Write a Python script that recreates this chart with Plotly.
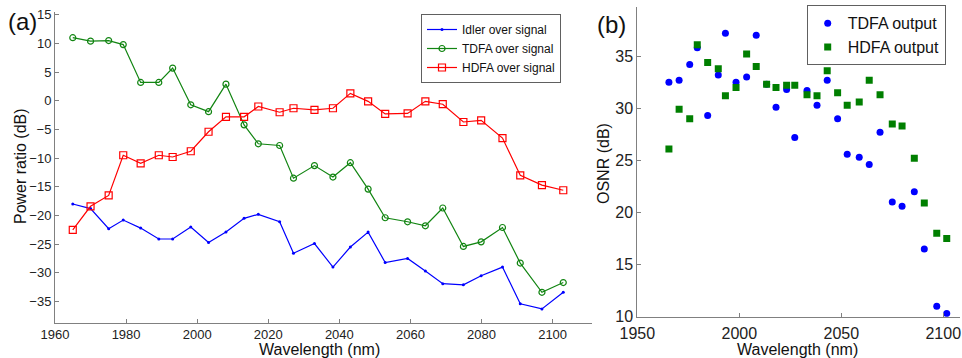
import plotly.graph_objects as go

# ---------------- Panel (a) data ----------------
wl_a = [1965, 1970, 1975.1, 1979.2, 1984.1, 1989.2, 1993.1, 1998.2, 2003.2, 2008.1,
        2013.2, 2017.2, 2023.2, 2027.1, 2033.0, 2038.2, 2043.1, 2048.1, 2052.9, 2059.2,
        2064.2, 2069.1, 2074.9, 2079.9, 2085.9, 2090.9, 2097.0, 2103.0]
idler_over_signal = [-18.0, -18.8, -22.3, -20.8, -22.2, -24.1, -24.1, -22.0, -24.7, -22.9,
                     -20.5, -19.8, -21.1, -26.6, -24.9, -29.0, -25.5, -22.9, -28.2, -27.5,
                     -29.7, -31.9, -32.1, -30.5, -29.0, -35.4, -36.3, -33.4]
tdfa_over_signal = [11.0, 10.4, 10.5, 9.8, 3.2, 3.2, 5.7, -0.7, -1.9, 2.9,
                    -4.2, -7.5, -7.8, -13.5, -11.3, -13.3, -10.8, -15.4, -20.4, -21.1,
                    -21.8, -18.7, -25.4, -24.6, -22.1, -28.3, -33.4, -31.7]
hdfa_over_signal = [-22.5, -18.4, -16.5, -9.5, -10.9, -9.5, -9.8, -8.8, -5.4, -2.8,
                    -2.8, -1.0, -2.0, -1.3, -1.6, -1.3, 1.3, -0.1, -2.3, -2.2,
                    -0.1, -0.6, -3.7, -3.4, -6.5, -13.0, -14.7, -15.6]

# ---------------- Panel (b) data ----------------
wl_b = [1965.5, 1970.5, 1975.7, 1979.4, 1984.5, 1989.7, 1993.2, 1998.4, 2003.6, 2008.3,
        2013.4, 2018.0, 2023.2, 2027.2, 2033.2, 2038.1, 2043.1, 2048.2, 2052.9, 2058.8,
        2063.7, 2069.0, 2075.0, 2079.8, 2085.8, 2090.7, 2096.8, 2101.7]
tdfa_osnr = [32.5, 32.7, 34.2, 35.8, 29.3, 33.2, 37.2, 32.5, 33.0, 37.0,
             32.3, 30.1, 31.8, 27.2, 31.7, 30.3, 32.7, 29.0, 25.6, 25.3,
             24.6, 27.7, 21.0, 20.6, 22.0, 16.5, 11.0, 10.3]
hdfa_osnr = [26.1, 29.9, 29.0, 36.1, 34.4, 33.8, 31.2, 32.0, 35.2, 34.0,
             32.3, 32.0, 32.2, 32.2, 31.3, 31.2, 33.6, 31.5, 30.3, 30.6,
             32.7, 31.3, 28.5, 28.3, 25.2, 20.9, 18.0, 17.5]

FONT = "Liberation Sans, Arial, sans-serif"
AX = "#808080"
W, H = 962, 358

fig = go.Figure()

fig.add_trace(go.Scatter(x=wl_a, y=idler_over_signal, name="Idler over signal",
                         mode="lines+markers", line=dict(color="#0000FF", width=1.2),
                         marker=dict(symbol="circle", size=3, color="#0000FF"),
                         xaxis="x", yaxis="y", legend="legend"))
fig.add_trace(go.Scatter(x=wl_a, y=tdfa_over_signal, name="TDFA over signal",
                         mode="lines+markers", line=dict(color="#128512", width=1.2),
                         marker=dict(symbol="circle-open", size=6, color="#128512",
                                     line=dict(width=1.2)),
                         xaxis="x", yaxis="y", legend="legend"))
fig.add_trace(go.Scatter(x=wl_a, y=hdfa_over_signal, name="HDFA over signal",
                         mode="lines+markers", line=dict(color="#FF0000", width=1.2),
                         marker=dict(symbol="square-open", size=7, color="#FF0000",
                                     line=dict(width=1.2)),
                         xaxis="x", yaxis="y", legend="legend"))

fig.add_trace(go.Scatter(x=wl_b, y=tdfa_osnr, name="TDFA output", mode="markers",
                         marker=dict(symbol="circle", size=7, color="#0000FF"),
                         xaxis="x2", yaxis="y2", legend="legend2"))
fig.add_trace(go.Scatter(x=wl_b, y=hdfa_osnr, name="HDFA output", mode="markers",
                         marker=dict(symbol="square", size=7, color="#007F00"),
                         xaxis="x2", yaxis="y2", legend="legend2"))

common = dict(showline=True, linecolor=AX, linewidth=1, showgrid=False, zeroline=False,
              ticks="inside", ticklen=4, tickcolor=AX, mirror=False, automargin=False)


def label(text, px, py, size=16, angle=0):
    return dict(text=text, x=px / W, y=1 - py / H, xref="paper", yref="paper",
                xanchor="center", yanchor="middle", showarrow=False, textangle=angle,
                font=dict(size=size, family=FONT, color="#111111"))


fig.update_layout(
    width=W, height=H, margin=dict(l=0, r=0, t=0, b=0, autoexpand=False),
    paper_bgcolor="white", plot_bgcolor="white",
    font=dict(family=FONT, color="#222222"),
    xaxis=dict(domain=[55 / W, 591.7 / W], range=[1960, 2111], tick0=1960, dtick=20,
               tickfont=dict(size=13), anchor="y", **common),
    yaxis=dict(domain=[1 - 322.7 / H, 1 - 11.9 / H], range=[-38.7, 15.5], tick0=-35, dtick=5,
               tickfont=dict(size=13), anchor="x", **common),
    xaxis2=dict(domain=[637.3 / W, 960 / W], range=[1950, 2108.2], tick0=1950, dtick=50,
                tickfont=dict(size=16), anchor="y2", ticklabelstandoff=2, **common),
    yaxis2=dict(domain=[1 - 316.7 / H, 1 - 6.7 / H], range=[10, 39.75], tick0=10, dtick=5,
                tickfont=dict(size=16), anchor="x2", **common),
    legend=dict(x=421 / W, y=1 - 14 / H, xanchor="left", yanchor="top",
                bordercolor="#606060", borderwidth=1, bgcolor="white",
                font=dict(size=12, family=FONT, color="#111111"), tracegroupgap=0),
    legend2=dict(x=806.7 / W, y=1 - 5.3 / H, xanchor="left", yanchor="top",
                 bordercolor="#606060", borderwidth=1, bgcolor="white",
                 font=dict(size=16, family=FONT, color="#111111"), tracegroupgap=0),
    annotations=[
        label("(a)", 22.5, 22, size=24),
        label("(b)", 611, 24, size=24),
        label("Power ratio (dB)", 20, 166, angle=-90),
        label("Wavelength (nm)", 319.3, 349),
        label("OSNR (dB)", 603, 164, angle=-90),
        label("Wavelength (nm)", 797.8, 349),
    ],
)

fig.write_html("out.html", config={"displayModeBar": False},
               post_script="document.body.style.margin='0';document.body.style.overflow='hidden';")
